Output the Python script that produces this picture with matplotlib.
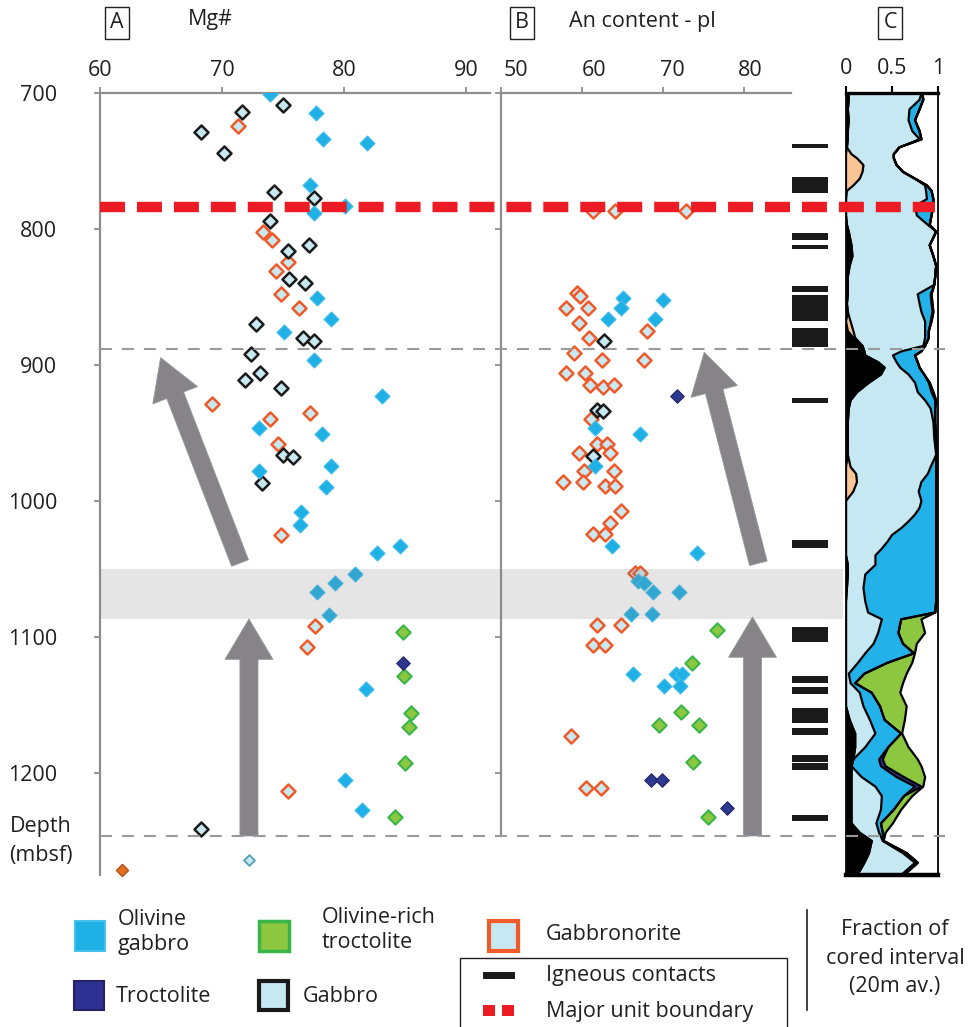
import numpy as np
import matplotlib
matplotlib.use("Agg")
import matplotlib.pyplot as plt
from matplotlib.patches import Rectangle
from matplotlib.lines import Line2D
from matplotlib.transforms import ScaledTranslation

plt.rcParams['font.family'] = ['Open Sans', 'DejaVu Sans']
plt.rcParams['lines.scale_dashes'] = False

# ---------------- Panel A : Mg# ----------------
olgab_mg = [73.9, 77.7, 78.3, 81.9, 77.2, 80.1, 77.5, 77.8, 78.9, 75.1, 77.5, 83.1, 73.0, 78.2,
            78.9, 73.0, 78.5, 76.5, 76.4, 82.7, 84.6, 80.9, 79.3, 77.8, 78.8, 81.8, 80.1, 81.5]
olgab_mg_depth = [701, 715, 734, 737, 768, 783, 788, 851, 866, 876, 896, 923, 946, 951,
                  974, 978, 990, 1008, 1018, 1038, 1033, 1054, 1060, 1067, 1084, 1138, 1205, 1227]
gabbro_mg = [75.0, 71.6, 68.3, 70.2, 74.3, 77.5, 73.9, 77.1, 75.4, 75.5, 76.8, 72.8, 76.6, 77.5,
             72.4, 73.1, 71.9, 74.8, 75.0, 75.8, 73.3, 68.3]
gabbro_mg_depth = [709, 714, 729, 744, 773, 777, 794, 812, 816, 837, 840, 870, 880, 882,
                   892, 906, 911, 917, 966, 968, 987, 1241]
gbn_mg = [71.3, 73.4, 74.1, 75.4, 74.4, 74.8, 76.3, 69.2, 77.2, 73.9, 74.6, 74.8, 77.6, 77.0, 75.4]
gbn_mg_depth = [724, 802, 808, 824, 831, 848, 858, 929, 935, 940, 958, 1025, 1092, 1107, 1213]
olrich_mg = [84.8, 84.9, 85.5, 85.3, 85.0, 84.2]
olrich_mg_depth = [1096, 1129, 1156, 1166, 1193, 1232]
troct_mg = [84.8]
troct_mg_depth = [1119]
oxide_mg = [61.8]
oxide_mg_depth = [1271]
vein_mg = [72.2]
vein_mg_depth = [1264]

# ---------------- Panel B : An content ----------------
gbn_an = [61.3, 64.1, 72.8, 59.4, 59.8, 58.0, 60.8, 59.6, 68.0, 60.9, 59.0, 62.5, 67.7, 58.0,
          60.4, 61.0, 62.6, 64.0, 61.1, 61.8, 63.1, 59.6, 63.4, 60.2, 63.9, 57.7, 60.1, 62.8,
          64.1, 64.8, 63.5, 61.4, 62.8, 66.5, 67.2, 61.9, 64.8, 61.4, 62.8, 58.7, 60.5, 62.4]
gbn_an_depth = [787, 787, 787, 847, 849, 858, 858, 869, 875, 880, 891, 896, 896, 906,
                906, 915, 916, 915, 940, 958, 958, 965, 965, 978, 978, 986, 986, 989,
                989, 1007, 1016, 1024, 1024, 1053, 1053, 1091, 1091, 1106, 1106, 1173, 1211, 1211]
olgab_an = [65.0, 64.8, 70.0, 63.2, 69.0, 61.6, 67.1, 61.6, 63.7, 74.2, 66.9, 67.7, 68.8,
            72.0, 66.1, 68.7, 66.3, 71.6, 72.4, 70.1, 72.1]
olgab_an_depth = [851, 858, 852, 866, 866, 946, 951, 974, 1033, 1038, 1059, 1060, 1067,
                  1067, 1083, 1083, 1127, 1127, 1127, 1136, 1136]
gabbro_an = [62.7, 61.8, 62.6, 61.4]
gabbro_an_depth = [882, 933, 934, 967]
olrich_an = [76.7, 73.6, 72.2, 69.5, 74.5, 73.7, 75.5]
olrich_an_depth = [1095, 1119, 1155, 1165, 1165, 1192, 1232]
troct_an = [71.7, 68.5, 69.9, 77.9]
troct_an_depth = [923, 1205, 1205, 1226]

# ---------------- Igneous contacts (depth intervals, mbsf) ----------------
contact_top = [737.5, 761.8, 803, 812, 842, 848.5, 854, 873, 924, 1029, 1092.6,
               1129, 1137, 1152, 1167, 1187, 1193, 1231]
contact_base = [740.5, 773.5, 808, 815, 846, 853.7, 868, 887, 928, 1034.6, 1103.7,
                1134, 1142, 1163, 1172, 1192, 1198, 1235]

# ---------------- Panel C : fraction of cored interval (20 m average) ----------------
depth_c = [700, 705, 712, 720, 728, 734, 740, 745, 748, 753, 758, 763, 768, 772, 778, 783,
           790, 797, 802, 812, 820, 827, 835, 841, 848, 855, 861, 868, 875, 880, 886, 890,
           893, 898, 902, 907, 913, 920, 926, 932, 942, 954, 966, 975, 980, 986, 993, 1000,
           1005, 1010, 1015, 1020, 1025, 1030, 1035, 1040, 1047, 1054, 1064, 1074, 1082, 1087,
           1097, 1105, 1112, 1119, 1127, 1134, 1141, 1151, 1161, 1171, 1181, 1190, 1195, 1203,
           1210, 1217, 1227, 1237, 1244, 1250, 1259, 1266, 1272, 1275]
frac_oxide = [.03, .03, .02, .03, .02, .02, .01, 0, 0, 0, 0, 0, 0, 0, 0, 0,
              0, .01, .03, .06, .07, .04, .02, .02, .02, .01, .02, 0, .02, .08, .18, .20,
              .21, .35, .42, .38, .25, .12, .05, .03, .02, .02, .02, 0, 0, 0, 0, 0,
              0, 0, 0, 0, 0, 0, 0, 0, .02, .02, .01, 0, 0, 0,
              0, 0, 0, 0, 0, 0, 0, 0, .04, .10, .10, .08, .06, .06,
              .06, .06, .06, .06, .15, .28, .25, .20, .15, .10]
frac_gbn = [0, 0, 0, 0, 0, 0, 0, .06, .12, .19, .18, .15, .08, .01, 0, 0,
            0, 0, 0, 0, 0, 0, 0, 0, 0, 0, 0, .05, .06, .02, 0, 0,
            0, 0, 0, 0, 0, 0, 0, 0, 0, 0, 0, .05, .11, .12, .08, 0,
            0, 0, 0, 0, 0, 0, 0, 0, 0, 0, 0, 0, 0, 0,
            0, 0, 0, 0, 0, 0, 0, 0, 0, 0, 0, 0, 0, 0,
            0, 0, 0, 0, 0, 0, 0, 0, 0, 0]
frac_gabbro = [.79, .77, .67, .65, .70, .78, .57, .46, .40, .36, .44, .60, .78, .86, .88, .75,
               .77, .88, .95, .85, .88, .94, .95, .94, .76, .79, .80, .81, .78, .76, .66, .40,
               .30, .20, .17, .30, .50, .66, .81, .89, .93, .94, .96, .87, .78, .70, .71, .82,
               .80, .75, .68, .60, .50, .45, .39, .32, .30, .19, .18, .21, .24, .39,
               .35, .30, .21, .13, .03, .05, .15, .19, .22, .22, .11, 0, 0, .11,
               .26, .33, .32, .27, .21, .12, .37, .55, .50, .50]
frac_olgab = [.01, .04, .11, .07, .08, .02, 0, 0, 0, 0, 0, 0, .02, .06, .07, .20,
              .16, .02, 0, 0, 0, 0, 0, 0, .14, .13, .12, .06, .04, .04, .02, .22,
              .24, .23, .21, .17, .15, .15, .11, .05, .02, .02, 0, .06, .09, .16, .19, .16,
              .18, .23, .30, .38, .48, .53, .59, .66, .66, .77, .79, .77, .73, .21,
              .22, .32, .53, .32, .17, .05, .13, .18, .16, .28, .25, .28, .32, .38,
              .43, .24, .14, .05, .04, .01, .04, .03, .03, .03]
frac_troct = [0, 0, 0, 0, 0, 0, 0, 0, 0, 0, 0, 0, 0, 0, 0, 0,
              0, 0, 0, 0, 0, 0, 0, 0, .01, .01, .01, .01, 0, 0, 0, 0,
              0, 0, 0, 0, .01, .02, .01, 0, 0, 0, 0, 0, 0, 0, 0, 0,
              0, 0, 0, 0, 0, 0, 0, 0, 0, 0, 0, 0, 0, 0,
              0, 0, 0, 0, 0, 0, 0, 0, 0, 0, 0, .04, .05, .08,
              .07, 0, 0, 0, 0, 0, 0, 0, 0, 0]
frac_olrich = [0, 0, 0, 0, 0, 0, 0, 0, 0, 0, 0, 0, 0, 0, 0, 0,
               0, 0, 0, 0, 0, 0, 0, 0, 0, 0, 0, 0, 0, 0, 0, 0,
               0, 0, 0, 0, 0, 0, 0, 0, 0, 0, 0, 0, 0, 0, 0, 0,
               0, 0, 0, 0, 0, 0, 0, 0, 0, 0, 0, 0, 0, .22,
               .29, .15, .01, .27, .46, .52, .31, .29, .22, .01, .22, .38, .39, .23,
               .02, .09, .08, .13, .03, 0, 0, 0, 0, 0]

unit_boundary = 783.5
sub_boundaries = [888, 1246.5]
transition_zone = (1050, 1087)

# ---------------- figure layout (pixel frame helpers) ----------------
W, H = 971, 1027
fig = plt.figure(figsize=(W / 100, H / 100), dpi=100)


def frame(x0, y0, x1, y1):
    return [x0 / W, 1 - y1 / H, (x1 - x0) / W, (y1 - y0) / H]


def fig_rect(x0, y0, x1, y1, **kw):
    fig.add_artist(Rectangle((x0 / W, 1 - y1 / H), (x1 - x0) / W, (y1 - y0) / H,
                             transform=fig.transFigure, **kw))


def fig_text(x, y, s, **kw):
    fig.text(x / W, 1 - y / H, s, **kw)


D_TOP, D_BOT = 700, 1275
GREY = '#8e8e8e'
TXT = '#231f20'
FS = 15.5

axA = fig.add_axes(frame(100, 93, 490, 875))
axB = fig.add_axes(frame(501, 93, 791, 875))
axK = fig.add_axes(frame(792, 93, 828, 875))
axC = fig.add_axes(frame(846, 93, 938, 875))
axO = fig.add_axes(frame(100, 93, 945, 875))

for ax in (axA, axB):
    ax.set_ylim(D_BOT, D_TOP)
    ax.patch.set_visible(False)
    for s in ('right', 'bottom'):
        ax.spines[s].set_visible(False)
    for s in ('left', 'top'):
        ax.spines[s].set_color(GREY)
        ax.spines[s].set_linewidth(1.6)
    ax.xaxis.tick_top()
    ax.tick_params(axis='both', direction='out', length=4, width=1.3, color=GREY,
                   labelsize=FS, labelcolor=TXT)
    ax.tick_params(axis='x', pad=5)
    ax.set_yticks(range(700, 1201, 100))

axA.set_xlim(60, 60 + 390 / 12.2)
axA.set_xticks([60, 70, 80, 90])
axA.tick_params(axis='y', pad=27)
axB.set_xlim(50, 50 + 290 / 8.1)
axB.set_xticks([50, 60, 70, 80])
axB.set_yticklabels([])
axB.spines['left'].set_bounds(D_TOP, sub_boundaries[1])
# the An labels sit a little right of their ticks
for lab, dx in zip(axB.get_xticklabels(), [15, 12, 9, 6]):
    lab.set_transform(lab.get_transform() + ScaledTranslation(dx / 100, 0, fig.dpi_scale_trans))

# marker styles per lithology
MS = 58
sty_olgab = dict(marker='D', s=MS, facecolor='#1fb0e6', edgecolor='#3dbdec', linewidths=0.8)
sty_gabbro = dict(marker='D', s=MS * 0.88, facecolor='#c9e9f2', edgecolor='#1a1a1a', linewidths=1.8)
sty_gbn = dict(marker='D', s=MS * 0.88, facecolor='#c9e9f2', edgecolor='#f05a28', linewidths=1.8)
sty_olrich = dict(marker='D', s=MS * 0.92, facecolor='#8dc63f', edgecolor='#39b54a', linewidths=1.5)
sty_troct = dict(marker='D', s=MS * 0.82, facecolor='#2b3990', edgecolor='#262262', linewidths=0.8)

axA.scatter(gbn_mg, gbn_mg_depth, zorder=3, **sty_gbn)
axA.scatter(gabbro_mg, gabbro_mg_depth, zorder=3, **sty_gabbro)
axA.scatter(olgab_mg, olgab_mg_depth, zorder=4, **sty_olgab)
axA.scatter(olrich_mg, olrich_mg_depth, zorder=4, **sty_olrich)
axA.scatter(troct_mg, troct_mg_depth, zorder=5, **sty_troct)
axA.scatter(oxide_mg, oxide_mg_depth, marker='D', s=38, facecolor='#e0701e',
            edgecolor='#b4501a', linewidths=1.0, zorder=4, clip_on=False)
axA.scatter(vein_mg, vein_mg_depth, marker='D', s=30, facecolor='#c9e9f2',
            edgecolor='#4aa3b8', linewidths=1.3, zorder=4, clip_on=False)

axB.scatter(gbn_an, gbn_an_depth, zorder=3, **sty_gbn)
axB.scatter(gabbro_an, gabbro_an_depth, zorder=3, **sty_gabbro)
axB.scatter(olgab_an, olgab_an_depth, zorder=4, **sty_olgab)
axB.scatter(olrich_an, olrich_an_depth, zorder=4, **sty_olrich)
axB.scatter(troct_an, troct_an_depth, zorder=5, **sty_troct)

# trend arrows
arrow_kw = dict(arrowstyle='simple,head_length=2.9,head_width=3.45,tail_width=1.3',
                mutation_scale=10, shrinkA=0, shrinkB=0, fc='#878489', ec='#9a979c', lw=0.6)
axA.annotate('', xy=(64.97, 894.6), xytext=(71.48, 1045.6), arrowprops=arrow_kw, zorder=6)
axA.annotate('', xy=(72.21, 1086.8), xytext=(72.21, 1246.3), arrowprops=arrow_kw, zorder=6)
axB.annotate('', xy=(75.09, 890.7), xytext=(81.77, 1045.8), arrowprops=arrow_kw, zorder=6)
axB.annotate('', xy=(81.05, 1085.3), xytext=(81.05, 1246.3), arrowprops=arrow_kw, zorder=6)

# igneous contacts column
ct = np.array(contact_top)
cb = np.array(contact_base)
axK.barh((ct + cb) / 2, np.ones_like(ct), height=cb - ct, left=0, color='#1a1a1a')
axK.set_xlim(0, 1)
axK.set_ylim(D_BOT, D_TOP)
axK.axis('off')

# panel C: stacked lithology fractions
layers = [frac_oxide, frac_gbn, frac_gabbro, frac_olgab, frac_troct, frac_olrich]
colors = ['#000000', '#f9c594', '#c6e8f2', '#22b1e8', '#2e3192', '#8dc63f']
dc = np.array(depth_c)
cum = np.zeros(len(dc))
edges = []
for f, c in zip(layers, colors):
    nxt = cum + np.array(f)
    axC.fill_betweenx(dc, cum, nxt, color=c, lw=0)
    edges.append(nxt)
    cum = nxt
for e in edges:
    axC.plot(e, dc, color='black', lw=1.6, solid_joinstyle='round')
axC.set_xlim(0, 1)
axC.set_ylim(D_BOT, D_TOP)
axC.xaxis.tick_top()
axC.set_xticks([0, 0.5, 1])
axC.set_xticklabels(['0', '0.5', '1'])
axC.set_yticks([])
axC.tick_params(axis='x', direction='out', length=5, width=1.5, color='black',
                labelsize=FS, labelcolor=TXT, pad=5)
axC.spines['top'].set_linewidth(2.4)
axC.spines['bottom'].set_linewidth(3.2)
axC.spines['left'].set_linewidth(1.3)
axC.spines['right'].set_linewidth(1.3)

# overlay: transition band and unit boundaries
axO.set_xlim(0, 1)
axO.set_ylim(D_BOT, D_TOP)
axO.axis('off')
axO.axhspan(*transition_zone, xmin=0, xmax=(843 - 100) / 845, color='#808080',
            alpha=0.2, lw=0)
axO.hlines(unit_boundary, 0, (935 - 100) / 845, colors='#ed1c24', lw=7.5,
           linestyles=(0, (18, 8.6)))
axO.hlines(sub_boundaries, 0, 1, colors='#9a9a9a', lw=1.5, linestyles=(0, (8.6, 7.2)))

# panel titles
box = dict(boxstyle='square,pad=0.25', fc='white', ec='#231f20', lw=1.0)
fig_text(117, 23, 'A', fontsize=FS, ha='center', va='center', color=TXT, bbox=box)
fig_text(522, 23, 'B', fontsize=FS, ha='center', va='center', color=TXT, bbox=box)
fig_text(890, 23, 'C', fontsize=FS, ha='center', va='center', color=TXT, bbox=box)
fig_text(210, 20, 'Mg#', fontsize=FS, ha='center', va='center', color=TXT)
fig_text(642, 22, 'An content - pl', fontsize=FS, ha='center', va='center', color=TXT)
fig_text(41, 841, 'Depth\n(mbsf)', fontsize=FS, ha='center', va='center', color=TXT,
         linespacing=1.5)

# legend
LFS = 15.5
fig_rect(75, 921, 105, 951, fc='#1fb0e6', ec='#45c1ee', lw=1.5)
fig_text(118, 932, 'Olivine\ngabbro', fontsize=LFS, va='center', color=TXT, linespacing=1.25)
fig_rect(259, 921, 289, 951, fc='#8dc63f', ec='#39b54a', lw=2.5)
fig_text(322, 930, 'Olivine-rich\ntroctolite', fontsize=LFS, va='center', color=TXT,
         linespacing=1.25)
fig_rect(489, 921, 518, 951, fc='#c6e8f2', ec='#f15a29', lw=3)
fig_text(546, 934, 'Gabbronorite', fontsize=LFS, va='center', color=TXT)
fig_rect(74, 981, 104, 1010, fc='#2e3192', ec='#262262', lw=1.5)
fig_text(116, 996, 'Troctolite', fontsize=LFS, va='center', color=TXT)
fig_rect(259, 981, 288, 1010, fc='#c6e8f2', ec='#1a1a1a', lw=3)
fig_text(303, 996, 'Gabbro', fontsize=LFS, va='center', color=TXT)
fig_rect(460, 958, 787, 1030, fc='none', ec='#231f20', lw=1.0)
fig_rect(483, 972, 515, 979, fc='#1a1a1a', ec='none')
fig_text(546, 975, 'Igneous contacts', fontsize=LFS, va='center', color=TXT)
fig_rect(483, 1005, 495, 1016, fc='#ed1c24', ec='none')
fig_rect(502, 1005, 514, 1016, fc='#ed1c24', ec='none')
fig_text(546, 1011, 'Major unit boundary', fontsize=LFS, va='center', color=TXT)
fig.add_artist(Line2D([807 / W, 807 / W], [1 - 910 / H, 1 - 1010 / H],
                      transform=fig.transFigure, color='#231f20', lw=1.2))
fig_text(895, 958, 'Fraction of\ncored interval\n(20m av.)', fontsize=LFS, ha='center',
         va='center', color=TXT, linespacing=1.45)

fig.savefig('out.png', dpi=100)
